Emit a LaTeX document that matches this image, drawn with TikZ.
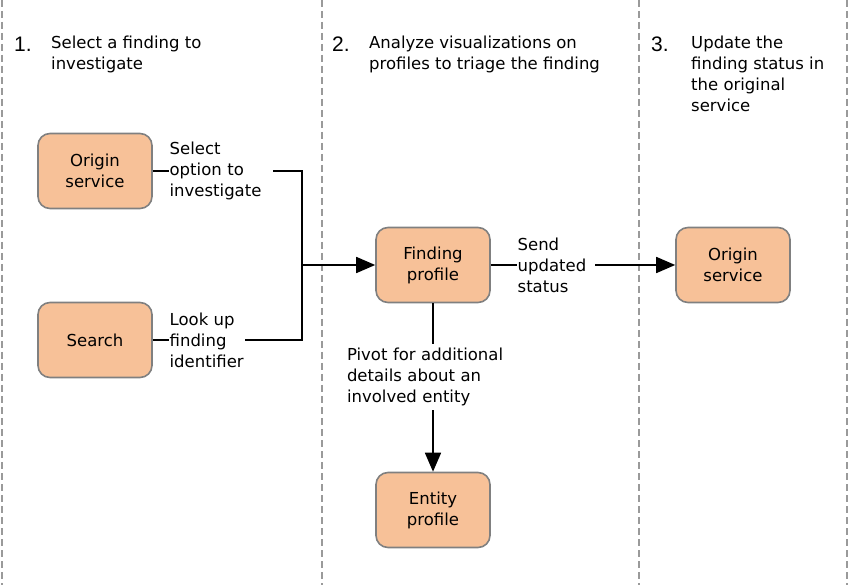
\documentclass[tikz,border=0pt]{standalone}
\usepackage{fontspec}
\setmainfont{DejaVu Sans}
\newfontfamily\numfont{Liberation Sans}
\usetikzlibrary{arrows.meta}
\definecolor{boxfill}{HTML}{F7C198}
\definecolor{boxline}{HTML}{808080}
\definecolor{laneline}{HTML}{9A9A9A}
\begin{document}
\begin{tikzpicture}[x=1pt,y=-1pt,
  txt/.style={font=\fontsize{16.5}{21}\selectfont},
  box/.style={txt, draw=boxline, line width=1.6pt, fill=boxfill, rounded corners=12pt,
    minimum width=114pt, minimum height=75pt, align=center, inner sep=0pt},
  lbl/.style={txt, fill=white, inner sep=1pt, align=left},
  conn/.style={line width=1.7pt, black},
  arr/.style={conn, -{Triangle[length=19pt,width=16pt]}},
  lane/.style={laneline, line width=1.3pt, dash pattern=on 7pt off 4pt},
  num/.style={font=\numfont\fontsize{21}{21}\selectfont, anchor=base west, inner sep=0pt},
  hdr/.style={txt, anchor=north west, align=left, inner sep=0pt}
]
\useasboundingbox (0,0) rectangle (849,585);
% lanes
\draw[lane] (2,0) -- (2,585);
\draw[lane] (322,0) -- (322,585);
\draw[lane] (639,0) -- (639,585);
\draw[lane] (847,0) -- (847,585);
% headers
\node[num] (n1) at (14,52) {1.};
\node[hdr] (h1) at (51,35.5) {Select a finding to\\investigate};
\node[num] (n2) at (332,52) {2.};
\node[hdr] (h2) at (369,35.5) {Analyze visualizations on\\profiles to triage the finding};
\node[num] (n3) at (651,52) {3.};
\node[hdr] (h3) at (691,35.5) {Update the\\finding status in\\the original\\service};
% boxes
\node[box] (os1) at (95,171) {Origin\\service};
\node[box] (srch) at (95,340) {Search};
\node[box] (fp) at (433,265) {Finding\\profile};
\node[box] (os2) at (733,265) {Origin\\service};
\node[box] (ep) at (433,510) {Entity\\profile};
\coordinate (j) at (302,265);
% connectors
\draw[conn] (os1.east) -- node[lbl, pos=0, anchor=west, xshift=15pt, text width=102pt] {Select\\option to\\investigate} (os1.east -| j) -- (j);
\draw[conn] (srch.east) -- node[lbl, pos=0, anchor=west, xshift=15pt] {Look up\\finding\\identifier} (srch.east -| j) -- (j);
\draw[arr] (j) -- (fp.west);
\draw[arr] (fp.east) -- node[lbl, pos=0, anchor=west, xshift=25pt, text width=76pt] {Send\\updated\\status} (os2.west);
\draw[arr] (fp.south) -- node[lbl, pos=0.438, text width=172pt, inner ysep=4pt] {Pivot for additional\\details about an\\involved entity} (ep.north);
\end{tikzpicture}
\end{document}
